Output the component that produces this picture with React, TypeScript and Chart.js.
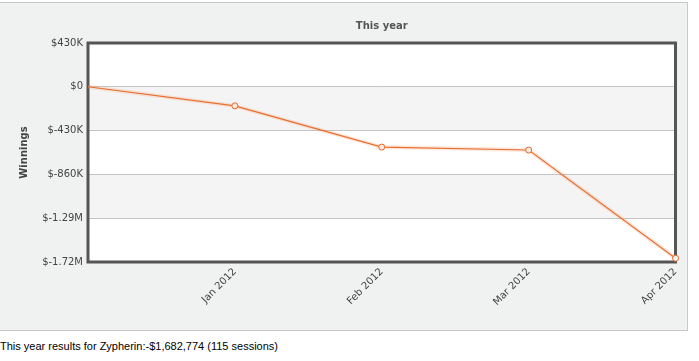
import React, { useEffect, useRef } from "react";
import { Chart, registerables } from "chart.js";

Chart.register(...registerables);

const categories = ["", "Jan 2012", "Feb 2012", "Mar 2012", "Apr 2012"];
const winnings = [0, -187000, -592000, -621000, -1682774];
const yMin = -1720000;
const yMax = 430000;
const yStep = 430000;
const chartTitle = "This year";
const yAxisTitle = "Winnings";
const footerText = "This year results for Zypherin:-$1,682,774 (115 sessions)";

function fmt(v: number): string {
  if (v === 0) return "$0";
  const a = Math.abs(v);
  if (a >= 1000000) return "$" + (v / 1000000).toFixed(2).replace(/\.?0+$/, "") + "M";
  return "$" + Math.round(v / 1000) + "K";
}

const bandsPlugin = {
  id: "bands",
  beforeDraw(chart: any) {
    const { ctx, chartArea } = chart;
    const y = chart.scales.y;
    ctx.save();
    ctx.fillStyle = "#ffffff";
    ctx.fillRect(chartArea.left, chartArea.top, chartArea.right - chartArea.left, chartArea.bottom - chartArea.top);
    const ticks = y.ticks.map((t: any) => t.value).sort((a: number, b: number) => b - a);
    for (let i = 0; i < ticks.length - 1; i++) {
      if (i % 2 === 1) {
        const t1 = y.getPixelForValue(ticks[i]);
        const t2 = y.getPixelForValue(ticks[i + 1]);
        ctx.fillStyle = "#f4f4f4";
        ctx.fillRect(chartArea.left, t1, chartArea.right - chartArea.left, t2 - t1);
      }
    }
    ctx.restore();
  },
  beforeDatasetsDraw(chart: any) {
    const { ctx, chartArea } = chart;
    ctx.save();
    ctx.strokeStyle = "#555555";
    ctx.lineWidth = 3;
    ctx.strokeRect(chartArea.left, chartArea.top, chartArea.right - chartArea.left, chartArea.bottom - chartArea.top);
    ctx.restore();
  },
  afterDraw(chart: any) {
    const { ctx, chartArea } = chart;
    ctx.save();
    ctx.font = "bold 10px 'DejaVu Sans'";
    ctx.fillStyle = "#555555";
    ctx.textAlign = "center";
    ctx.textBaseline = "middle";
    ctx.fillText(chartTitle, (chartArea.left + chartArea.right) / 2, 23);
    ctx.restore();
  },
};

export default function App() {
  const ref = useRef<HTMLCanvasElement | null>(null);
  useEffect(() => {
    if (!ref.current) return;
    const chart = new Chart(ref.current, {
      type: "line",
      data: {
        labels: categories,
        datasets: [
          {
            data: winnings,
            borderColor: "rgba(240,150,100,0.22)",
            borderWidth: 4,
            pointRadius: 0,
            clip: false as any,
          },
          {
            data: winnings,
            borderColor: "#e8621f",
            borderWidth: 1.1,
            pointRadius: [0, 3, 3, 3, 3],
            pointBackgroundColor: "#ffffff",
            pointBorderColor: "#e8621f",
            pointBorderWidth: 1,
            clip: false as any,
          },
        ],
      },
      options: {
        animation: false,
        responsive: false,
        maintainAspectRatio: false,
        layout: { padding: { top: 40, right: 12, left: 0, bottom: 0 } },
        plugins: { legend: { display: false }, tooltip: { enabled: false }, title: { display: false } },
        scales: {
          x: {
            type: "category",
            offset: false,
            grid: { display: false, drawTicks: false },
            border: { display: false },
            ticks: {
              minRotation: 45,
              maxRotation: 45,
              autoSkip: false,
              padding: 4,
              color: "#444444",
              font: { family: "'DejaVu Sans'", size: 10 },
            },
            afterFit(scale: any) {
              scale.height = 69;
            },
          },
          y: {
            min: yMin,
            max: yMax,
            grid: { color: "#c4c4c4", drawTicks: false, lineWidth: 1 },
            border: { display: false },
            ticks: {
              stepSize: yStep,
              padding: 5,
              color: "#444444",
              font: { family: "'DejaVu Sans'", size: 10 },
              callback: (v: any) => fmt(Number(v)),
            },
            title: {
              display: true,
              text: yAxisTitle,
              color: "#444444",
              font: { family: "'DejaVu Sans'", size: 10, weight: "bold" },
              padding: { top: 18, bottom: 0 },
            },
            afterFit(scale: any) {
              scale.width = 88;
            },
          },
        },
      },
      plugins: [bandsPlugin],
    });
    return () => chart.destroy();
  }, []);
  return (
    <div style={{ position: "absolute", left: 0, top: 0, width: 699, height: 361, background: "#ffffff" }}>
      <div
        style={{
          position: "absolute",
          left: -1,
          top: 2,
          width: 689,
          height: 329,
          background: "#f0f1f1",
          border: "1px solid #c8c8c8",
          boxSizing: "border-box",
        }}
      >
        <canvas ref={ref} width={688} height={328} style={{ position: "absolute", left: 0, top: 0 }} />
      </div>
      <div
        style={{
          position: "absolute",
          left: 0,
          top: 340,
          fontFamily: "'Liberation Sans', Arial, sans-serif",
          fontSize: 11,
          color: "#000",
          whiteSpace: "nowrap",
        }}
      >
        {footerText}
      </div>
    </div>
  );
}
